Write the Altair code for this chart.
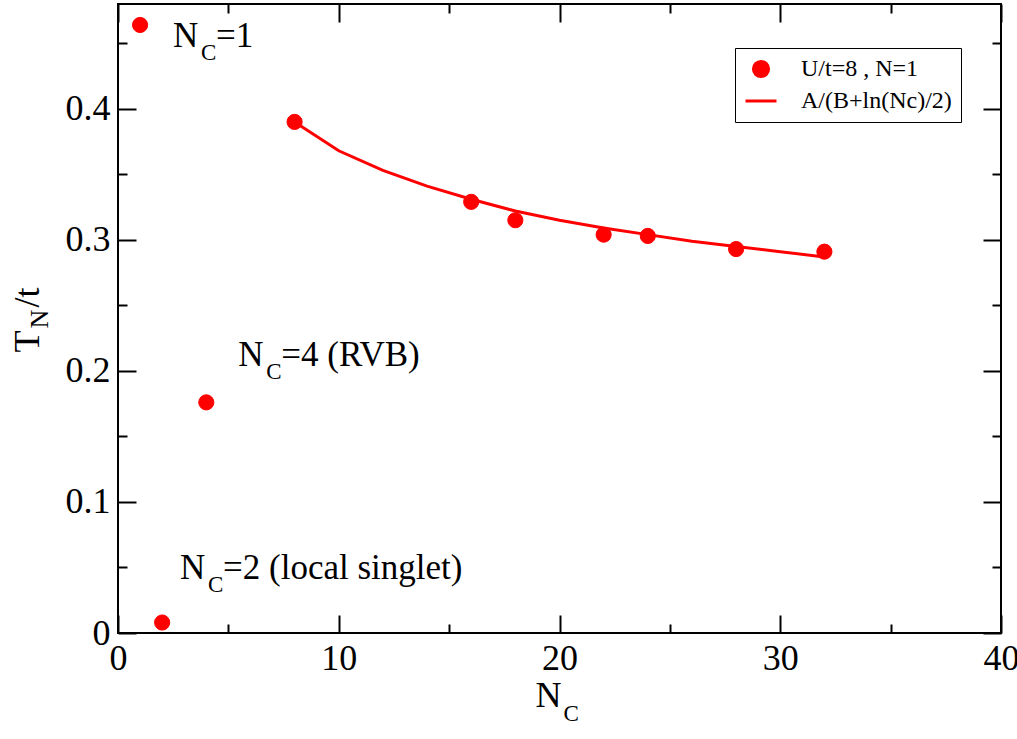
import altair as alt
import pandas as pd

# ---- data ----
n_c = [1, 2, 4, 8, 16, 18, 22, 24, 28, 32]
t_n = [0.464, 0.008, 0.176, 0.390, 0.329, 0.315, 0.304, 0.303, 0.293, 0.291]

fit_n = [8, 10, 12, 14, 16, 18, 20, 22, 24, 26, 28, 30, 32]
fit_t = [0.390, 0.368, 0.353, 0.341, 0.331, 0.322, 0.315, 0.309, 0.304, 0.299, 0.295, 0.291, 0.287]

series_names = ["U/t=8 , N=1", "A/(B+ln(Nc)/2)"]

ann_x = [2.49, 5.45, 2.81]
ann_y = [0.4474, 0.2034, 0.041]
ann_rest = ["=1", "=4 (RVB)", "=2 (local singlet)"]

x_major = [0, 10, 20, 30, 40]
x_minor = [5, 15, 25, 35]
y_major = [0, 0.1, 0.2, 0.3, 0.4]
y_minor = [0.05, 0.15, 0.25, 0.35, 0.45]

# ---- tables ----
pts = pd.DataFrame({"n": n_c, "t": t_n, "series": series_names[0]})
fit = pd.DataFrame({"n": fit_n, "t": fit_t})
ann = pd.DataFrame({"n": ann_x, "t": ann_y, "main": "N", "sub": "C", "rest": ann_rest})

W, H = 883, 629
FONT = "Liberation Serif"
RED = "#ff0000"

xs = alt.Scale(domain=[0, 40], nice=False, zero=False)
ys = alt.Scale(domain=[0, 0.48], nice=False, zero=False)

title_style = dict(titleFont=FONT, titleFontWeight="normal", titleColor="black",
                   titleAlign="left", titleBaseline="alphabetic")


def tick_axis(orient, offset, values, size, **kw):
    return alt.Axis(orient=orient, offset=offset, values=values, tickSize=size,
                    tickWidth=2, tickColor="black", labels=False, domain=False,
                    grid=False, **kw)


label_style = dict(ticks=False, tickSize=0, domain=False, grid=False,
                   labelFont=FONT, labelFontSize=36, labelColor="black",
                   labelPadding=8, labelFlush=False, labelOverlap=False)

legend = alt.Legend(orient="none", legendX=617, legendY=44, title=None)
dom = series_names

# layer 1: points, label axes, legend
points = alt.Chart(pts).mark_point(filled=True, strokeWidth=1, opacity=1).encode(
    x=alt.X("n:Q", scale=xs, axis=alt.Axis(orient="bottom", values=x_major, title="N",
                                           titleFontSize=36, titleX=417, titleY=73,
                                           titleAngle=0, **label_style, **title_style)),
    y=alt.Y("t:Q", scale=ys, axis=alt.Axis(orient="left", values=y_major, format=".1~f",
                                           title="T", titleFontSize=36, titleX=-80,
                                           titleY=348, titleAngle=270,
                                           **label_style, **title_style)),
    fill=alt.Fill("series:N", scale=alt.Scale(domain=dom, range=[RED, RED]), legend=legend),
    stroke=alt.Stroke("series:N", scale=alt.Scale(domain=dom, range=[RED, RED]), legend=legend),
    shape=alt.Shape("series:N", scale=alt.Scale(domain=dom, range=["circle", "stroke"]), legend=legend),
    size=alt.Size("series:N", scale=alt.Scale(domain=dom, range=[230, 960]), legend=legend),
)

# layer 2: fit curve, inward major ticks bottom/left + subscripts of titles
line = alt.Chart(fit).mark_line(color=RED, strokeWidth=3).encode(
    x=alt.X("n:Q", scale=xs, axis=tick_axis("top", -H, x_major, 18, title="C",
                                            titleFontSize=23, titleX=445, titleY=87,
                                            titleAngle=0, **title_style)),
    y=alt.Y("t:Q", scale=ys, axis=tick_axis("right", -W, y_major, 18, title="N",
                                            titleFontSize=26, titleX=-71, titleY=324,
                                            titleAngle=270, **title_style)),
)

txt = dict(align="left", baseline="alphabetic", font=FONT, color="black")

# layer 3: "N" of annotations, inward major ticks top/right + "/t"
ann_main = alt.Chart(ann).mark_text(fontSize=35, **txt).encode(
    x=alt.X("n:Q", scale=xs, axis=tick_axis("bottom", -H, x_major, 18, title=None)),
    y=alt.Y("t:Q", scale=ys, axis=tick_axis("left", -W, y_major, 18, title="/t",
                                            titleFontSize=36, titleX=-80 - W, titleY=303,
                                            titleAngle=270, **title_style)),
    text="main:N",
)

# layer 4: subscript "C", inward minor ticks bottom/left
ann_sub = alt.Chart(ann).mark_text(fontSize=23, dx=28, dy=13, **txt).encode(
    x=alt.X("n:Q", scale=xs, axis=tick_axis("top", -H, x_minor, 9, title=None)),
    y=alt.Y("t:Q", scale=ys, axis=tick_axis("right", -W, y_minor, 9, title=None)),
    text="sub:N",
)

# layer 5: rest of annotation, inward minor ticks top/right
ann_rest_l = alt.Chart(ann).mark_text(fontSize=35, dx=43, **txt).encode(
    x=alt.X("n:Q", scale=xs, axis=tick_axis("bottom", -H, x_minor, 9, title=None)),
    y=alt.Y("t:Q", scale=ys, axis=tick_axis("left", -W, y_minor, 9, title=None)),
    text="rest:N",
)

chart = alt.layer(line, points, ann_main, ann_sub, ann_rest_l).resolve_axis(
    x="independent", y="independent"
).properties(
    width=W, height=H,
    padding={"left": 118, "top": 4, "right": 16, "bottom": 106},
    autosize=alt.AutoSizeParams(type="none"),
    background="white",
).configure_view(
    stroke="black", strokeWidth=2, fill="white"
).configure_legend(
    labelFont=FONT, labelFontSize=24, labelColor="black", labelLimit=300,
    labelOffset=23, padding=9, rowPadding=1, symbolStrokeWidth=3,
    strokeColor="black", fillColor="white", cornerRadius=0,
)

chart.save("out.html", embed_options={"renderer": "svg", "actions": False})
